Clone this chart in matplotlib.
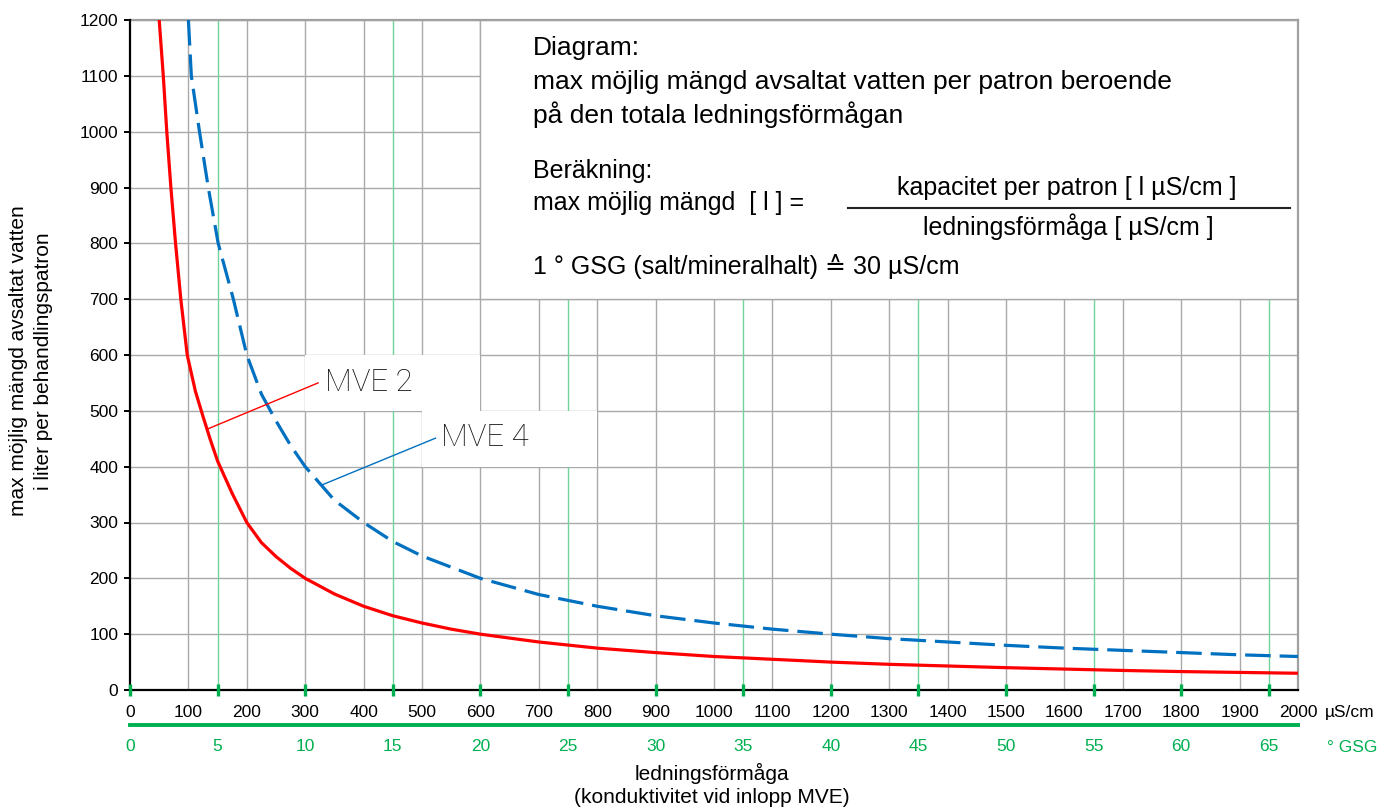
import matplotlib
matplotlib.use('Agg')
import matplotlib.pyplot as plt
from matplotlib.patches import Rectangle

plt.rcParams['font.family'] = ['Liberation Sans', 'DejaVu Sans']

# ledningsförmåga [µS/cm] and max möjlig mängd [l]
mve2_x = [50, 57, 63, 70, 78, 87, 98, 112, 125, 137, 150, 175, 200, 225, 250,
          275, 300, 350, 400, 450, 500, 550, 600, 700, 800, 900, 1000,
          1100, 1200, 1300, 1400, 1500, 1600, 1700, 1800, 1900, 2000]
mve2_y = [1200, 1100, 1000, 900, 800, 700, 600, 535, 490, 450, 410, 352, 300,
          264, 239, 218, 200, 172, 150, 133, 120, 109, 100, 86, 75, 67, 60,
          55, 50, 46, 43, 40, 37.5, 35, 33, 31.5, 30]

mve4_x = [100, 105, 119, 134, 151, 177, 200, 225, 250, 275, 300, 350, 400,
          450, 500, 600, 700, 800, 900, 1000, 1100, 1200, 1300, 1400, 1500,
          1600, 1700, 1800, 1900, 2000]
mve4_y = [1200, 1100, 1000, 900, 800, 700, 600, 530, 482, 438, 400, 340, 300,
          266, 240, 200, 171, 150, 133, 120, 109, 100, 92, 86, 80,
          75, 71, 67, 63, 60]

x_ticks = list(range(0, 2001, 100))
y_ticks = list(range(0, 1201, 100))
gsg_ticks = list(range(0, 66, 5))
us_per_gsg = 30

GRID = '#a9a9a9'
GREEN = '#00b050'
LGREEN = '#6fd39a'
RED = '#ff0000'
BLUE = '#0070c0'


def main():
    fig = plt.figure(figsize=(13.78, 8.09), dpi=100)
    ax = fig.add_axes([130 / 1378, 119 / 809, 1168 / 1378, 670 / 809])
    ax.set_xlim(0, 2000)
    ax.set_ylim(0, 1200)

    # grid: grey every 100 µS/cm, green at the odd 5 °GSG steps
    for x in x_ticks[1:]:
        ax.axvline(x, color=GRID, lw=1.0, zorder=1)
    for g in gsg_ticks:
        x = g * us_per_gsg
        if x % 100:
            ax.axvline(x, color=LGREEN, lw=1.0, zorder=1.1)
    for y in y_ticks[1:]:
        ax.axhline(y, color=GRID, lw=1.0, zorder=1)

    # white boxes over the grid
    ax.add_patch(Rectangle((600, 700), 1400, 500, facecolor='white',
                           edgecolor=GRID, lw=1.0, zorder=2))
    ax.add_patch(Rectangle((300, 500), 300, 100, facecolor='white',
                           edgecolor='none', zorder=2))
    ax.add_patch(Rectangle((500, 400), 300, 100, facecolor='white',
                           edgecolor='none', zorder=2))

    # curves
    ax.plot(mve2_x, mve2_y, color=RED, lw=2.3, zorder=4,
            solid_joinstyle='round')
    ax.plot(mve4_x, mve4_y, color=BLUE, lw=2.3, dashes=(8, 2.8), zorder=4)

    # labels with leader lines
    ax.plot([134, 322], [468, 550], color=RED, lw=1.0, zorder=5)
    ax.plot([328, 523], [367, 451], color=BLUE, lw=1.0, zorder=5)
    lab = dict(fontsize=22.5, family=['Roboto', 'DejaVu Sans'], fontweight='light',
               color='#111111', va='center', ha='left', zorder=5)
    ax.text(334, 550, 'MVE 2', **lab)
    ax.text(532, 452, 'MVE 4', **lab)

    # info text
    tx = 690
    ax.text(tx, 1150, 'Diagram:', fontsize=19, va='center', zorder=5)
    ax.text(tx, 1089, 'max möjlig mängd avsaltat vatten per patron beroende',
            fontsize=19, va='center', zorder=5)
    ax.text(tx, 1030, 'på den totala ledningsförmågan', fontsize=19,
            va='center', zorder=5)
    ax.text(tx, 930, 'Beräkning:', fontsize=18, va='center', zorder=5)
    ax.text(tx, 873, 'max möjlig mängd  [ l ] =', fontsize=18, va='center', zorder=5)
    ax.text(1604, 900, 'kapacitet per patron [ l µS/cm ]', fontsize=18,
            va='center', ha='center', zorder=5)
    ax.plot([1229, 1986], [864, 864], color='#222222', lw=1.5, zorder=5)
    ax.text(1607, 830, 'ledningsförmåga [ µS/cm ]', fontsize=18,
            va='center', ha='center', zorder=5)
    ax.text(tx, 758, '1 ° GSG (salt/mineralhalt) \u2259 30 µS/cm', fontsize=18,
            va='center', zorder=5)

    # spines
    for s in ('left', 'bottom'):
        ax.spines[s].set_color('black')
        ax.spines[s].set_linewidth(1.6)
        ax.spines[s].set_zorder(6)
    for s in ('top', 'right'):
        ax.spines[s].set_color('#a0a0a0')
        ax.spines[s].set_linewidth(1.6)

    ax.set_xticks(x_ticks)
    ax.set_yticks(y_ticks)
    ax.tick_params(axis='x', length=0, pad=11, labelsize=12.5)
    ax.tick_params(axis='y', length=4.3, width=1.4, pad=4, labelsize=12.5)

    # green ticks on the bottom axis (° GSG)
    fwd = (lambda x: x / us_per_gsg, lambda g: g * us_per_gsg)
    gt = ax.secondary_xaxis(0, functions=fwd)
    gt.set_xticks(gsg_ticks)
    gt.tick_params(direction='inout', length=9, width=2.4, color=GREEN,
                   labelbottom=False)
    gt.spines['bottom'].set_visible(False)
    gt.set_zorder(7)

    # ° GSG scale
    gs = ax.secondary_xaxis(-35 / 670, functions=fwd)
    gs.set_xticks(gsg_ticks)
    gs.spines['bottom'].set_color(GREEN)
    gs.spines['bottom'].set_linewidth(2.8)
    gs.tick_params(length=0, pad=10, labelsize=12.5, labelcolor=GREEN)

    fig.text(1325 / 1378, (809 - 712) / 809, 'µS/cm', fontsize=12.5,
             va='center', ha='left')
    fig.text(1327 / 1378, (809 - 747) / 809, '° GSG', fontsize=12.5,
             va='center', ha='left', color=GREEN)

    fig.text(712 / 1378, (809 - 785) / 809,
             'ledningsförmåga\n(konduktivitet vid inlopp MVE)', fontsize=15,
             ha='center', va='center', linespacing=1.3)
    fig.text(31 / 1378, (809 - 361) / 809,
             'max möjlig mängd avsaltat vatten\ni liter per behandlingspatron',
             fontsize=15, rotation=90, ha='center', va='center', linespacing=1.4)

    fig.savefig('out.png', dpi=100)
    return 0


if __name__ == '__main__':
    main()
